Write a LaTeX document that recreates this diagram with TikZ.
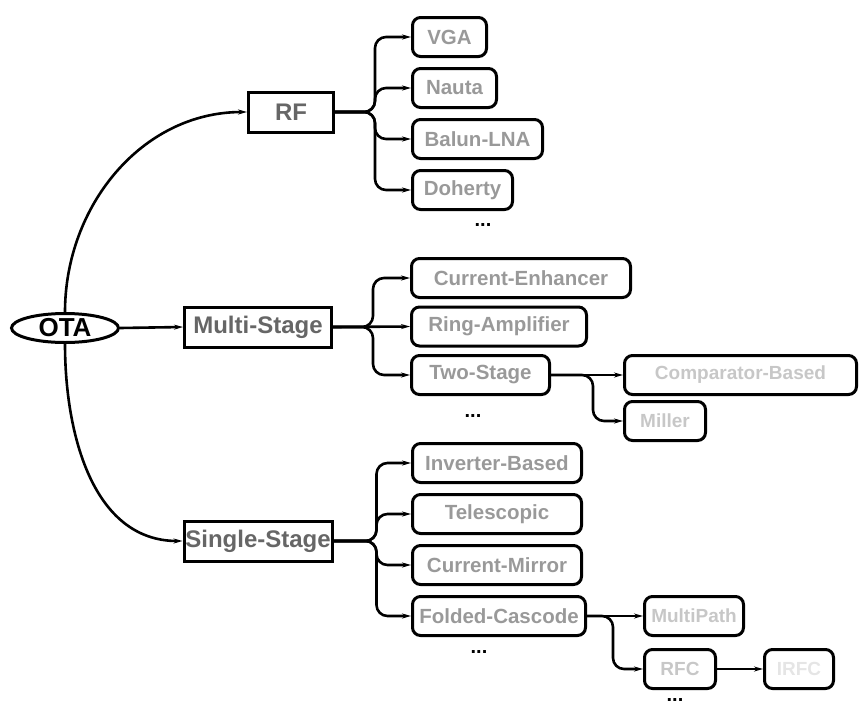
\documentclass[tikz,border=0pt]{standalone}
\usepackage{fontspec}
\setmainfont{Liberation Sans}
\usetikzlibrary{positioning,arrows.meta,shapes.geometric}
\definecolor{lvlone}{gray}{0.4}
\definecolor{lvltwo}{gray}{0.6}
\definecolor{lvlthree}{gray}{0.78}
\definecolor{lvlfour}{gray}{0.9}

\begin{document}
\begin{tikzpicture}[x=1pt,y=1pt,
			>={Stealth[length=9pt,width=5pt]},
			root/.style={draw,ellipse,line width=3pt,inner sep=0pt,
				minimum width=107pt,minimum height=29pt,
				font=\fontsize{26}{30}\selectfont\bfseries},
			catbox/.style={draw,line width=3pt,inner sep=0pt,
				minimum height=40pt,text=lvlone,
				font=\fontsize{24}{28}\selectfont\bfseries},
			leaf/.style={draw,rounded corners=8pt,line width=3pt,inner sep=0pt,
				minimum height=39pt,text=lvltwo,
				font=\fontsize{20.5}{24}\selectfont\bfseries},
			subleaf/.style={leaf,text=lvlthree,
				font=\fontsize{19}{23}\selectfont\bfseries},
			tinyleaf/.style={subleaf,text=lvlfour},
			more/.style={font=\fontsize{20}{24}\selectfont\bfseries},
			edge/.style={->,line width=2.6pt,rounded corners=11pt}]
			
			\useasboundingbox (0,0) rectangle (861,-707);
			
			\node[root] (ota) at (65,-328) {OTA};
			
			\node[catbox,minimum width=85pt] (rf) at (291,-112) {RF};
			
			\node[catbox,minimum width=147pt] (ms) at (258,-327) {Multi-Stage};
			
			\node[catbox,minimum width=148pt] (ss) at (258,-541) {Single-Stage};
			
			% RF family
			\node[leaf,anchor=west,minimum width=74pt] (vga) at (411,-37) {VGA};
			
			\node[leaf,minimum width=84pt,below right=9pt and 0pt of vga.south west] (nauta) {Nauta};
			
			\node[leaf,minimum width=130pt,below right=9pt and 0pt of nauta.south west] (balun) {Balun-LNA};
			
			\node[leaf,minimum width=100pt,below right=9pt and 0pt of balun.south west] (doherty) {Doherty};
			
			\node[more] (rfmore) at (483,-225) {...};
			
			% multi-stage family
			\node[leaf,anchor=west,minimum width=219pt] (enhancer) at (410,-278) {Current-Enhancer};
			
			\node[leaf,minimum width=175pt,below right=6.5pt and 0pt of enhancer.south west] (ring) {Ring-Amplifier};
			
			\node[leaf,minimum width=138pt,below right=6.5pt and 0pt of ring.south west] (twostage) {Two-Stage};
			
			\node[more] (msmore) at (473,-416) {...};
			
			\node[subleaf,minimum width=232pt,right=72pt of twostage] (comparator) {Comparator-Based};
			
			\node[subleaf,minimum width=81pt,below right=4pt and 0pt of comparator.south west] (miller) {Miller};
			
			% single-stage family
			\node[leaf,anchor=west,minimum width=169pt] (inverter) at (411,-463) {Inverter-Based};
			
			\node[leaf,minimum width=169pt,below right=9pt and 0pt of inverter.south west] (telescopic) {Telescopic};
			
			\node[leaf,minimum width=169pt,below right=9pt and 0pt of telescopic.south west] (mirror) {Current-Mirror};
			
			\node[leaf,minimum width=173pt,below right=9pt and 0pt of mirror.south west] (folded) {Folded-Cascode};
			
			\node[more] (ssmore) at (479,-652) {...};
			
			\node[subleaf,minimum width=99pt,right=56pt of folded] (multipath) {MultiPath};
			
			\node[subleaf,minimum width=71pt,below right=11pt and 0pt of multipath.south west] (rfc) {RFC};
			
			\node[tinyleaf,minimum width=69pt,right=46pt of rfc] (irfc) {IRFC};
			
			\node[more] (rfcmore) at (675,-700) {...};
			
			% connectors
			\draw[edge] (ota.east)--(ms.west);
			
			\draw[edge] (ota.north) to[out=90,in=180] (rf.west);
			
			\draw[edge] (ota.south) to[out=-90,in=180] (ss.west);
			
			\foreach \kid in {vga,nauta,balun,doherty}
				\draw[edge] (rf.east)--++(40,0) |- (\kid.west);
			
			\foreach \kid in {enhancer,twostage}
				\draw[edge] (ms.east)--++(40,0) |- (\kid.west);
			
			\draw[edge] (ms.east)--(ring.west);
			
			\draw[edge] (twostage.east)--(comparator.west);
			
			\draw[edge] (twostage.east)--++(42,0) |- (miller.west);
			
			\foreach \kid in {inverter,telescopic,mirror,folded}
				\draw[edge] (ss.east)--++(43,0) |- (\kid.west);
			
			\draw[edge] (folded.east)--(multipath.west);
			
			\draw[edge] (folded.east)--++(26,0) |- (rfc.west);
			
			\draw[edge] (rfc)--(irfc);
			
		\end{tikzpicture}
\end{document}
